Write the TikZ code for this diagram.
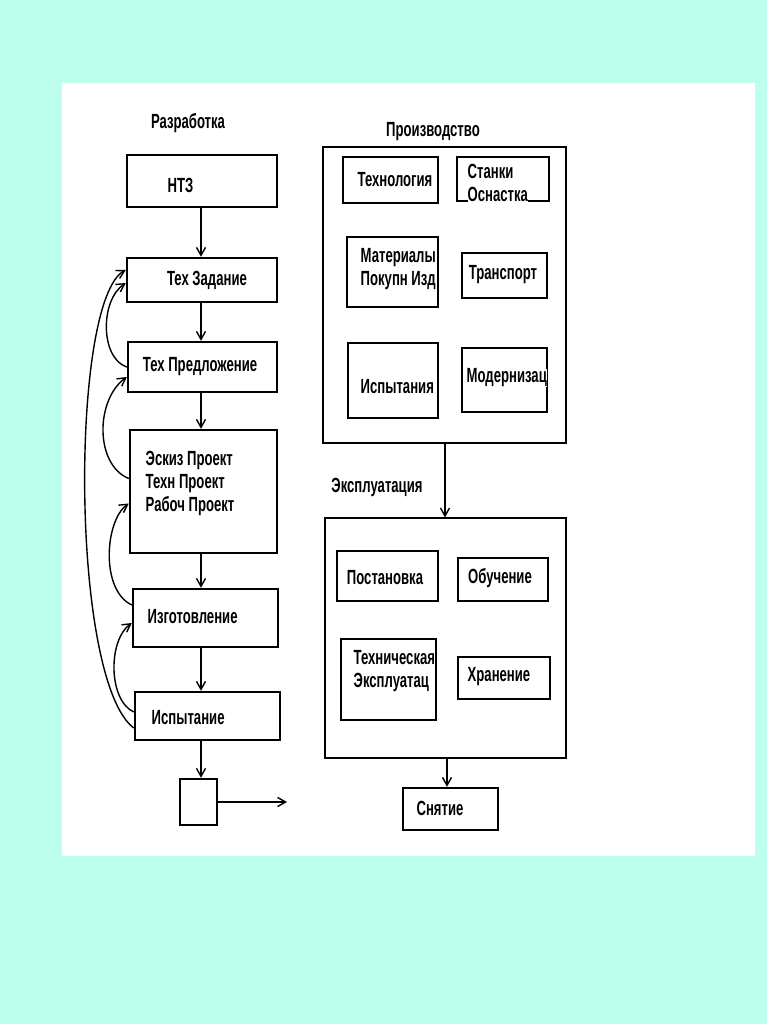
\documentclass[tikz,border=0pt]{standalone}
\usepackage{fontspec}
\newfontfamily\lbfam[FakeStretch=0.64]{Liberation Sans}
\usetikzlibrary{arrows.meta}
\definecolor{mint}{RGB}{188,255,236}
\tikzset{
	box/.style={draw, line width=2.4pt, inner sep=0pt},
	frame/.style={draw, line width=1.2pt, inner sep=0pt},
	lbl/.style={font=\lbfam\bfseries\fontsize{20.5}{23}\selectfont, inner sep=0pt, align=left, fill=white},
}

\begin{document}
\begin{tikzpicture}[x=1pt,y=-1pt,line width=1.4pt,>={Straight Barb[length=8pt,width=9pt]}]
	  \useasboundingbox (0,0) rectangle (767,1024);
	  \fill[mint] (0,0) rectangle (767,1024);
	  \fill[white] (62,83) rectangle (755,856);

	  % Разработка
	  \node[lbl] (razr) at (188,123) {Разработка};
	  \node[box,minimum width=150,minimum height=52] (nts) at (202,181) {};
	  \node[box,minimum width=150,minimum height=44] (tz) at (202,280) {};
	  \node[box,minimum width=149,minimum height=50] (tp) at (202.5,367) {};
	  \node[box,minimum width=147,minimum height=123] (ep) at (203.5,491.5) {};
	  \node[box,minimum width=145,minimum height=58] (izg) at (205.5,618) {};
	  \node[box,minimum width=145,minimum height=48] (isp) at (207.5,716) {};
	  \node[box,minimum width=37,minimum height=46] (sq) at (198.5,802) {};
	  \coordinate (out) at (287,802);

	  \node[lbl,anchor=west] (nts-t) at (167,185) {НТЗ};
	  \node[lbl] (tz-t) at (207,280) {Тех Задание};
	  \node[lbl] (tp-t) at (200,367) {Тех Предложение};
	  \node[lbl,anchor=west] (ep-t) at (145,483) {Эскиз Проект\\Техн Проект\\Рабоч Проект};
	  \node[lbl,anchor=west] (izg-t) at (147,617) {Изготовление};
	  \node[lbl,anchor=west] (isp-t) at (151,718) {Испытание};

	  \foreach \a/\b in {nts/tz,tz/tp,tp/ep,ep/izg,izg/isp,isp/sq}{
		\draw[->] (\a.south -| 201,0) -- (\b.north -| 201,0);
	  }
	  \draw[->] (sq.east) -- (out);

	  % возвраты
	  \draw[->] ([yshift=-12pt]isp.west) .. controls (70,680) and (70,300) .. ([yshift=10pt]tz.west);
	  \draw[->] (tp.west) .. controls (100,358) and (100,300) .. ([yshift=-3pt]tz.west);
	  \draw[->] ([yshift=13pt]ep.west) .. controls (95,465) and (95,400) .. ([yshift=-10pt]tp.west);
	  \draw[->] ([yshift=13pt]izg.west) .. controls (100,590) and (105,520) .. ([yshift=-12pt]ep.west);
	  \draw[->] ([yshift=4pt]isp.west) .. controls (108,700) and (108,640) .. ([yshift=-5pt]izg.west);

	  % Производство
	  \node[lbl] (prod-l) at (433,132) {Производство};
	  \node[frame,minimum width=243,minimum height=296] (prod) at (444.5,295) {};
	  \node[box,minimum width=95,minimum height=46] (tech) at (390.5,180) {};
	  \node[box,minimum width=92,minimum height=44] (stan) at (503,179) {};
	  \node[box,minimum width=91,minimum height=70] (mat) at (392.5,272) {};
	  \node[box,minimum width=85,minimum height=45] (trans) at (504.5,275.5) {};
	  \node[box,minimum width=90,minimum height=75] (ispy) at (393,380.5) {};
	  \node[box,minimum width=85,minimum height=64] (mod) at (504.5,380) {};

	  \node[lbl] (tech-t) at (395,180) {Технология};
	  \node[lbl,anchor=west] (stan-t) at (467,183) {Станки\\Оснастка};
	  \node[lbl,anchor=west] (mat-t) at (360,269) {Материалы\\Покупн Изд};
	  \node[lbl] (trans-t) at (503,275) {Транспорт};
	  \node[lbl,anchor=west] (ispy-t) at (360,387) {Испытания};
	  \node[lbl,anchor=west] (mod-t) at (466,378) {Модернизац};

	  % Эксплуатация
	  \node[lbl] (expl-l) at (377,487) {Эксплуатация};
	  \node[frame,minimum width=241,minimum height=240] (expl) at (445.5,638) {};
	  \node[box,minimum width=101,minimum height=50] (post) at (387.5,576) {};
	  \node[box,minimum width=90,minimum height=43] (obuch) at (503,579.5) {};
	  \node[box,minimum width=95,minimum height=81] (texp) at (388.5,679.5) {};
	  \node[box,minimum width=92,minimum height=42] (hran) at (504,678) {};
	  \node[box,minimum width=95,minimum height=42] (snyat) at (450.5,809) {};

	  \node[lbl] (post-t) at (385,578) {Постановка};
	  \node[lbl] (obuch-t) at (500,578) {Обучение};
	  \node[lbl,anchor=west] (texp-t) at (353,671) {Техническая\\Эксплуатац};
	  \node[lbl,anchor=west] (hran-t) at (467,677) {Хранение};
	  \node[lbl] (snyat-t) at (440,808) {Снятие};

	  \draw[->] (prod.south -| 445,0) -- (expl.north -| 445,0);
	  \draw[->] (expl.south -| 447,0) -- (snyat.north -| 447,0);
	\end{tikzpicture}
\end{document}
